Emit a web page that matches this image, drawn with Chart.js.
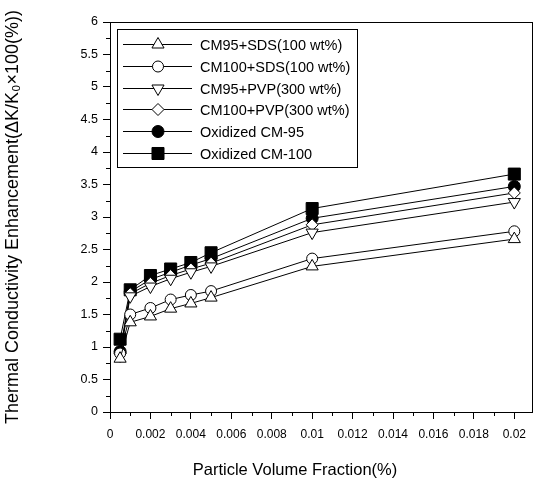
<!DOCTYPE html>
<html>
<head>
<meta charset="utf-8">
<script src="https://cdn.jsdelivr.net/npm/chart.js"></script>
<style>
  body { margin: 0; background: #fff; }
  #wrap { width: 542px; height: 484px; }
</style>
</head>
<body>
<div id="wrap"><canvas id="myChart" width="542" height="484"></canvas></div>
<script>
// volume fraction (%) of each measurement
var fractions = [0.0005, 0.001, 0.002, 0.003, 0.004, 0.005, 0.01, 0.02];

var cm95Sds = [0.82, 1.38, 1.47, 1.59, 1.67, 1.76, 2.24, 2.66];
var cm100Sds = [0.90, 1.50, 1.60, 1.73, 1.80, 1.86, 2.36, 2.78];
var cm95Pvp = [0.87, 1.78, 1.93, 2.05, 2.15, 2.24, 2.76, 3.23];
var cm100Pvp = [0.90, 1.82, 1.98, 2.10, 2.20, 2.29, 2.88, 3.37];
var oxCm95 = [0.93, 1.85, 2.04, 2.15, 2.26, 2.36, 2.98, 3.47];
var oxCm100 = [1.12, 1.88, 2.10, 2.20, 2.30, 2.45, 3.13, 3.66];

var seriesNames = ['CM95+SDS(100 wt%)', 'CM100+SDS(100 wt%)', 'CM95+PVP(300 wt%)',
                   'CM100+PVP(300 wt%)', 'Oxidized CM-95', 'Oxidized CM-100'];

var xTickLabels = ['0', '0.002', '0.004', '0.006', '0.008', '0.01', '0.012', '0.014', '0.016', '0.018', '0.02'];
var yTickLabels = ['0', '0.5', '1', '1.5', '2', '2.5', '3', '3.5', '4', '4.5', '5', '5.5', '6'];

var xTitle = 'Particle Volume Fraction(%)';
var yTitle = 'Thermal Conductivity Enhancement(ΔK/K₀×100(%))';

var FONT = "'Liberation Sans', Arial, sans-serif";

function toPoints(vals) {
    return vals.map(function (v, i) { return {x: fractions[i], y: v}; });
}

function makeSet(label, vals, style, filled, radius, rotation) {
    return {
        label: label,
        data: toPoints(vals),
        borderColor: '#000',
        borderWidth: 1,
        backgroundColor: filled ? '#000' : '#fff',
        pointStyle: style,
        pointRadius: radius,
        pointRotation: rotation || 0,
        pointBorderWidth: 1,
        pointBorderColor: '#000',
        pointBackgroundColor: filled ? '#000' : '#fff',
        tension: 0,
        fill: false
    };
}

var datasets = [
    makeSet(seriesNames[0], cm95Sds, 'triangle', false, 7),
    makeSet(seriesNames[1], cm100Sds, 'circle', false, 5.5),
    makeSet(seriesNames[2], cm95Pvp, 'triangle', false, 7, 180),
    makeSet(seriesNames[3], cm100Pvp, 'rectRot', false, 6),
    makeSet(seriesNames[4], oxCm95, 'circle', true, 6),
    makeSet(seriesNames[5], oxCm100, 'rect', true, 8.5)
];

// frame, minor ticks, x title and boxed legend
var framePlugin = {
    id: 'frame',
    afterDraw: function (chart) {
        var ctx = chart.ctx, a = chart.chartArea;
        var xs = chart.scales.x, ys = chart.scales.y;
        ctx.save();
        ctx.strokeStyle = '#000';
        ctx.lineWidth = 1;
        ctx.strokeRect(Math.round(a.left) + 0.5, Math.round(a.top) + 0.5,
                       Math.round(a.right - a.left) - 1, Math.round(a.bottom - a.top));
        ctx.beginPath();
        for (var i = 0; i < xTickLabels.length; i++) {
            var xv = parseFloat(xTickLabels[i]) + 0.001;
            if (xv > xs.max) break;
            var px = Math.round(xs.getPixelForValue(xv)) + 0.5;
            ctx.moveTo(px, a.bottom);
            ctx.lineTo(px, a.bottom + 4);
        }
        for (var j = 0; j < yTickLabels.length - 1; j++) {
            var yv = (parseFloat(yTickLabels[j]) + parseFloat(yTickLabels[j + 1])) / 2;
            var py = Math.round(ys.getPixelForValue(yv)) + 0.5;
            ctx.moveTo(a.left, py);
            ctx.lineTo(a.left - 4, py);
        }
        ctx.stroke();

        // x axis title (sits a bit left of the plot centre in the original)
        ctx.fillStyle = '#000';
        ctx.font = '16.5px ' + FONT;
        ctx.textAlign = 'center';
        ctx.textBaseline = 'middle';
        ctx.fillText(xTitle, 295, 470);

        // legend
        var bx = 117.5, by = 29.5, bw = 240, bh = 138;
        ctx.fillStyle = '#fff';
        ctx.fillRect(bx, by, bw, bh);
        ctx.strokeRect(bx, by, bw, bh);
        ctx.font = '14.5px ' + FONT;
        ctx.textAlign = 'left';
        chart.data.datasets.forEach(function (ds, k) {
            var ry = Math.round(44 + k * 21.8) + 0.5;
            ctx.strokeStyle = '#000';
            ctx.beginPath();
            ctx.moveTo(123, ry);
            ctx.lineTo(192, ry);
            ctx.stroke();
            ctx.fillStyle = ds.pointBackgroundColor;
            Chart.helpers.drawPoint(ctx, {
                pointStyle: ds.pointStyle,
                radius: ds.pointRadius,
                rotation: ds.pointRotation,
                borderWidth: 1
            }, 158, ry);
            ctx.fillStyle = '#000';
            ctx.fillText(ds.label, 200, ry + 1);
        });
        ctx.restore();
    }
};

var ctx = document.getElementById('myChart').getContext('2d');
var myChart = new Chart(ctx, {
    type: 'line',
    data: { datasets: datasets },
    plugins: [framePlugin],
    options: {
        responsive: false,
        animation: false,
        layout: { padding: { top: 22, right: 5, left: 0, bottom: 0 } },
        plugins: {
            legend: { display: false },
            tooltip: { enabled: false }
        },
        scales: {
            x: {
                type: 'linear',
                min: 0,
                max: 0.0209,
                afterBuildTicks: function (axis) {
                    axis.ticks = xTickLabels.map(function (t) { return {value: parseFloat(t)}; });
                },
                afterFit: function (axis) { axis.height = 72; },
                ticks: {
                    color: '#000',
                    font: { family: FONT, size: 12 },
                    padding: 8,
                    maxRotation: 0,
                    autoSkip: false,
                    callback: function (v, i) { return xTickLabels[i]; }
                },
                grid: { drawOnChartArea: false, color: '#000', tickLength: 7 },
                border: { display: true, color: '#000', width: 1 }
            },
            y: {
                min: 0,
                max: 6,
                afterBuildTicks: function (axis) {
                    axis.ticks = yTickLabels.map(function (t) { return {value: parseFloat(t)}; });
                },
                afterFit: function (axis) { axis.width = 110; },
                ticks: {
                    color: '#000',
                    font: { family: FONT, size: 12.5 },
                    padding: 5,
                    autoSkip: false,
                    callback: function (v, i) { return yTickLabels[i]; }
                },
                grid: { drawOnChartArea: false, color: '#000', tickLength: 7 },
                border: { display: true, color: '#000', width: 1 },
                title: {
                    display: true,
                    text: yTitle,
                    color: '#000',
                    font: { family: FONT, size: 18 },
                    padding: { top: 2, bottom: 0 }
                }
            }
        }
    }
});
</script>
</body>
</html>
